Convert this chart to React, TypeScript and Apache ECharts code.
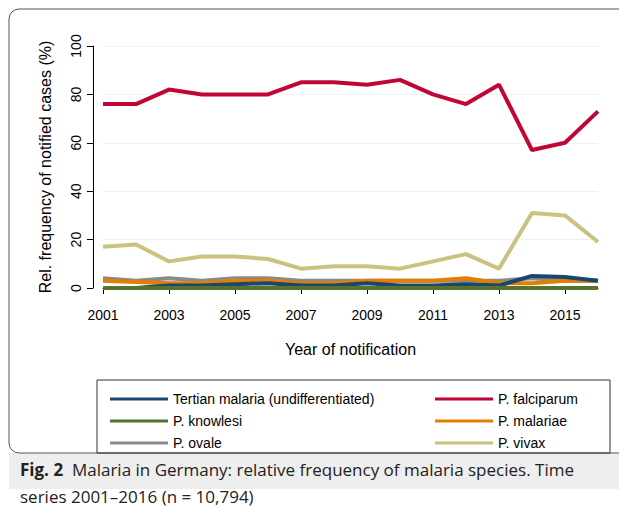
import * as echarts from "echarts";
import { useEffect, useRef } from "react";

const years = ["2001","2002","2003","2004","2005","2006","2007","2008","2009","2010","2011","2012","2013","2014","2015","2016"];
const tertian = [0, 0, 1, 1, 1.5, 2, 1, 1, 2, 1, 1, 1.5, 1, 5, 4.5, 3];
const falciparum = [76, 76, 82, 80, 80, 80, 85, 85, 84, 86, 80, 76, 84, 57, 60, 73];
const knowlesi = [0, 0, 0, 0, 0, 0, 0, 0, 0, 0, 0, 0, 0, 0, 0, 0];
const malariae = [3, 2.5, 2, 2, 3, 3, 2, 2, 3, 3, 3, 4, 2, 2, 3, 3];
const ovale = [4, 3, 4, 3, 4, 4, 3, 3, 3, 3, 3, 3, 3, 4, 3, 3];
const vivax = [17, 18, 11, 13, 13, 12, 8, 9, 9, 8, 11, 14, 8, 31, 30, 19];
const yTicks = [0, 20, 40, 60, 80, 100];

const font = "Liberation Sans, Arial, sans-serif";

export default function App() {
  const ref = useRef<HTMLDivElement | null>(null);

  useEffect(() => {
    const chart = echarts.init(ref.current!, null, { renderer: "svg" });
    const line = (name: string, data: number[], color: string, z = 2) => ({
      name, type: "line", data, z, showSymbol: false, symbol: "none",
      lineStyle: { color, width: 4 }, itemStyle: { color },
    });
    const legendBase = {
      orient: "vertical", top: 379, itemWidth: 58, itemHeight: 3, itemGap: 8,
      icon: "rect", textStyle: { fontFamily: font, fontSize: 14, color: "#000" },
    };
    chart.setOption({
      animation: false,
      grid: { left: 95, right: 21, top: 38, bottom: 231 },
      xAxis: {
        type: "category", data: years, boundaryGap: false,
        name: "Year of notification", nameLocation: "middle", nameGap: 43,
        nameTextStyle: { fontFamily: font, fontSize: 16, color: "#000" },
        axisLine: { lineStyle: { color: "#000" } },
        axisTick: { length: 6, interval: 1, lineStyle: { color: "#000" } },
        axisLabel: { interval: 1, fontFamily: font, fontSize: 14, color: "#000", margin: 10 },
        offset: 10,
      },
      yAxis: {
        type: "value", min: 0, max: 100, interval: 20,
        name: "Rel. frequency of notified cases (%)", nameLocation: "middle", nameGap: 40,
        nameTextStyle: { fontFamily: font, fontSize: 16, color: "#000" },
        axisLine: { show: true, lineStyle: { color: "#000" } },
        axisTick: { show: true, length: 6, lineStyle: { color: "#000" } },
        axisLabel: { fontFamily: font, fontSize: 14, color: "#000", rotate: 90, margin: 10,
          formatter: (v: number) => (yTicks.includes(v) ? String(v) : "") },
        splitLine: { lineStyle: { color: "#eaf2f3" } },
        offset: 10,
      },
      legend: [
        { ...legendBase, left: 97, data: ["Tertian malaria (undifferentiated)", "P. knowlesi", "P. ovale"] },
        { ...legendBase, left: 422, data: ["P. falciparum", "P. malariae", "P. vivax"] },
      ],
      graphic: [
        { type: "rect", shape: { x: 1, y: 1, width: 630, height: 444, r: 10 }, style: { fill: "none", stroke: "#555", lineWidth: 1 }, z: -1 },
        { type: "rect", shape: { x: 89, y: 372, width: 513, height: 73 }, style: { fill: "none", stroke: "#333", lineWidth: 1 } },
        { type: "rect", shape: { x: 1, y: 445, width: 630, height: 36 }, style: { fill: "#eeeeee" }, z: -2 },
        { type: "text", x: 12, y: 453, style: { rich: { b: { fontWeight: "bold", fontSize: 17, fontFamily: "Open Sans" }, n: { fontSize: 17, fontFamily: "Open Sans" } }, text: "{b|Fig. 2}{n|  Malaria in Germany: relative frequency of malaria species. Time}", fill: "#222" } },
        { type: "text", x: 12, y: 480, style: { text: "series 2001–2016 (n = 10,794)", fontSize: 17, fontFamily: "Open Sans", fill: "#222" } },
      ],
      series: [
        line("Tertian malaria (undifferentiated)", tertian, "#1a476f", 4),
        line("P. falciparum", falciparum, "#c10534"),
        line("P. knowlesi", knowlesi, "#55752f", 5),
        line("P. malariae", malariae, "#e37e00", 3),
        line("P. ovale", ovale, "#8a8a8a", 2),
        line("P. vivax", vivax, "#cac27e"),
      ],
    });
    return () => chart.dispose();
  }, []);

  return <div ref={ref} style={{ width: 611, height: 511 }} />;
}
